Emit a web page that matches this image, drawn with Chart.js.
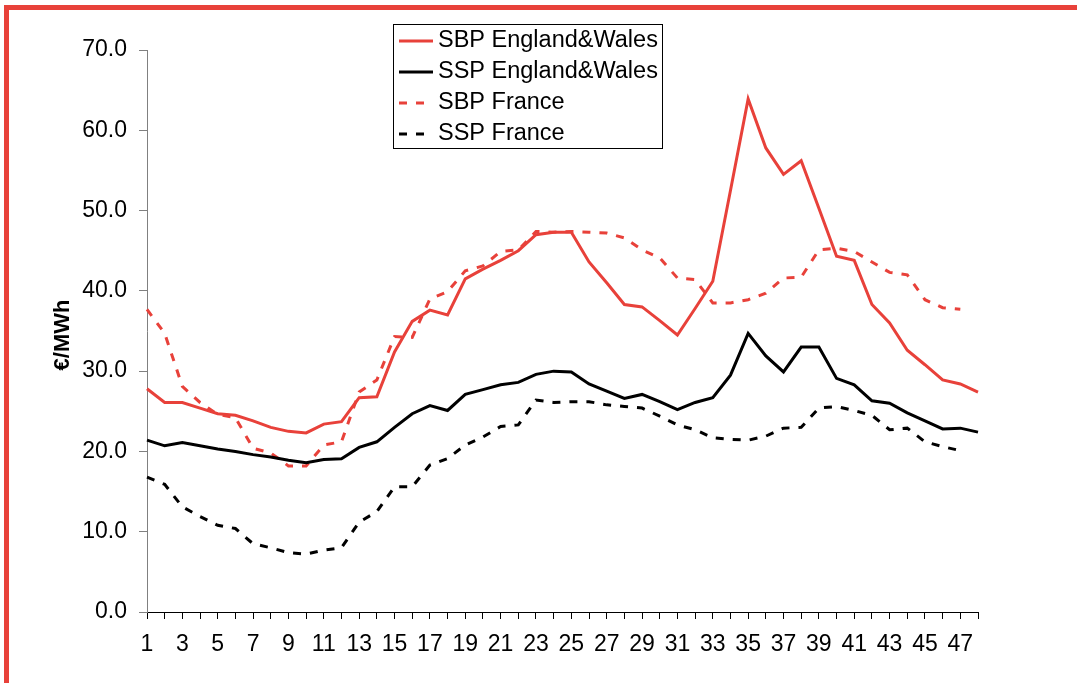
<!DOCTYPE html>
<html>
<head>
<meta charset="utf-8">
<script src="https://cdn.jsdelivr.net/npm/chart.js@4.4.0/dist/chart.umd.min.js"></script>
<style>
  html, body { margin: 0; padding: 0; background: #fff; }
  #wrap { width: 1077px; height: 683px; }
</style>
</head>
<body>
<div id="wrap"><canvas id="chart" width="1077" height="683"></canvas></div>
<script>
// Settlement periods (half hours)
const periods = ["1","2","3","4","5","6","7","8","9","10","11","12","13","14","15","16",
  "17","18","19","20","21","22","23","24","25","26","27","28","29","30","31","32",
  "33","34","35","36","37","38","39","40","41","42","43","44","45","46","47","48"];

// €/MWh
const sbpEW = [27.8, 26.1, 26.1, 25.4, 24.7, 24.5, 23.8, 23.0, 22.5, 22.3, 23.4, 23.7,
  26.7, 26.8, 32.4, 36.2, 37.6, 37.0, 41.5, 42.7, 43.8, 45.0, 47.0, 47.3,
  47.3, 43.6, 41.0, 38.3, 38.0, 36.3, 34.5, 37.8, 41.2, 52.5, 63.9, 57.8,
  54.5, 56.2, 50.3, 44.3, 43.8, 38.3, 36.0, 32.6, 30.8, 28.9, 28.4, 27.4];
const sspEW = [21.4, 20.7, 21.1, 20.7, 20.3, 20.0, 19.6, 19.3, 18.9, 18.6, 19.0, 19.1,
  20.5, 21.2, 23.0, 24.7, 25.7, 25.1, 27.1, 27.7, 28.3, 28.6, 29.6, 30.0,
  29.9, 28.4, 27.5, 26.6, 27.1, 26.2, 25.2, 26.1, 26.7, 29.5, 34.7, 31.9,
  29.9, 33.0, 33.0, 29.1, 28.3, 26.3, 26.0, 24.8, 23.8, 22.8, 22.9, 22.4];
const sbpFR = [37.7, 34.7, 28.1, 26.1, 24.6, 24.2, 20.4, 19.8, 18.2, 18.2, 20.8, 21.2,
  27.4, 28.9, 34.3, 34.2, 39.0, 39.9, 42.5, 43.1, 44.9, 45.1, 47.4, 47.3,
  47.4, 47.3, 47.2, 46.6, 45.1, 44.1, 41.6, 41.4, 38.5, 38.5, 38.9, 39.7,
  41.6, 41.7, 45.1, 45.3, 44.9, 43.6, 42.3, 42.0, 38.9, 37.9, 37.7, null];
const sspFR = [16.8, 15.9, 13.1, 11.9, 10.8, 10.4, 8.5, 8.0, 7.4, 7.2, 7.7, 8.0,
  11.2, 12.5, 15.6, 15.6, 18.3, 19.1, 20.8, 21.8, 23.1, 23.3, 26.4, 26.1,
  26.2, 26.2, 25.8, 25.6, 25.4, 24.4, 23.3, 22.7, 21.7, 21.5, 21.4, 21.9,
  22.9, 23.0, 25.4, 25.6, 25.1, 24.5, 22.7, 22.9, 21.2, 20.6, 20.1, null];

const RED = "#e8413a";
const FONT = '"Liberation Sans", Arial, sans-serif';

// red frame on top/left edge + white background
const framePlugin = {
  id: "frame",
  beforeDraw(chart) {
    const ctx = chart.ctx;
    ctx.save();
    ctx.fillStyle = "#fff";
    ctx.fillRect(0, 0, chart.width, chart.height);
    ctx.fillStyle = RED;
    ctx.fillRect(4, 5, chart.width - 4, 5);
    ctx.fillRect(4, 5, 5, chart.height - 5);
    ctx.restore();
  },
};

// rotated y title
const yTitlePlugin = {
  id: "yTitle",
  afterDraw(chart) {
    const ctx = chart.ctx;
    ctx.save();
    ctx.translate(63, 335);
    ctx.rotate(-Math.PI / 2);
    ctx.font = "bold 22px " + FONT;
    ctx.fillStyle = "#000";
    ctx.textAlign = "center";
    ctx.textBaseline = "middle";
    ctx.fillText("€/MWh", 0, 0);
    ctx.restore();
  },
};

// boxed legend inside the plot
const legendPlugin = {
  id: "legendBox",
  afterDraw(chart) {
    const ctx = chart.ctx;
    ctx.save();
    ctx.fillStyle = "#fff";
    ctx.fillRect(393, 24, 270, 125);
    ctx.strokeStyle = "#000";
    ctx.lineWidth = 1;
    ctx.strokeRect(393.5, 24.5, 269, 124);
    ctx.font = "23.5px " + FONT;
    ctx.textBaseline = "middle";
    chart.data.datasets.forEach((ds, i) => {
      const y = 41 + i * 31;
      ctx.beginPath();
      ctx.setLineDash(ds.borderDash || []);
      ctx.strokeStyle = ds.borderColor;
      ctx.lineWidth = 3;
      ctx.moveTo(399, y);
      ctx.lineTo(433, y);
      ctx.stroke();
      ctx.setLineDash([]);
      ctx.fillStyle = "#000";
      ctx.fillText(ds.label, 438, y);
    });
    ctx.restore();
  },
};

function line(label, data, color, dash) {
  return {
    label,
    data,
    borderColor: color,
    backgroundColor: color,
    borderWidth: 3,
    borderDash: dash,
    pointRadius: 0,
    tension: 0,
    fill: false,
    spanGaps: false,
  };
}

new Chart(document.getElementById("chart"), {
  type: "line",
  data: {
    labels: periods,
    datasets: [
      line("SBP England&Wales", sbpEW, RED, []),
      line("SSP England&Wales", sspEW, "#000", []),
      line("SBP France", sbpFR, RED, [8, 9]),
      line("SSP France", sspFR, "#000", [8, 9]),
    ],
  },
  options: {
    responsive: false,
    animation: false,
    devicePixelRatio: 1,
    layout: { padding: { top: 50, right: 99, left: 0, bottom: 0 } },
    plugins: { legend: { display: false }, tooltip: { enabled: false } },
    scales: {
      x: {
        offset: false,
        afterFit(scale) { scale.height = 71; },
        grid: { drawOnChartArea: false, drawTicks: true, tickLength: 7, color: "#000" },
        border: { color: "#000", width: 1 },
        ticks: {
          autoSkip: false,
          maxRotation: 0,
          padding: 12,
          color: "#000",
          font: { family: FONT, size: 23 },
          callback(val, idx) { return idx % 2 === 0 ? this.getLabelForValue(val) : ""; },
        },
      },
      y: {
        min: 0,
        max: 70,
        afterFit(scale) { scale.width = 147; },
        grid: { drawOnChartArea: false, drawTicks: true, tickLength: 8, color: "#808080" },
        border: { color: "#808080", width: 1 },
        ticks: {
          stepSize: 10,
          padding: 12,
          color: "#000",
          font: { family: FONT, size: 23 },
          callback: (v) => v.toFixed(1),
        },
      },
    },
  },
  plugins: [framePlugin, yTitlePlugin, legendPlugin],
});
</script>
</body>
</html>
